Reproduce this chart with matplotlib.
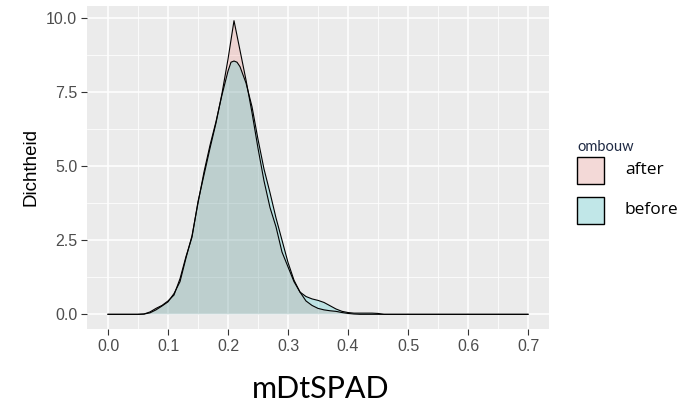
import numpy as np
import matplotlib.pyplot as plt
import matplotlib.colors as mcolors
from matplotlib.patches import Rectangle

# dichtheidscurves
after_x = [0.0, 0.05, 0.06, 0.07, 0.08, 0.09, 0.10, 0.11, 0.12, 0.13, 0.14, 0.15,
           0.16, 0.17, 0.18, 0.19, 0.20, 0.21, 0.22, 0.23, 0.24, 0.25, 0.26, 0.27,
           0.28, 0.29, 0.30, 0.31, 0.32, 0.33, 0.34, 0.35, 0.36, 0.37, 0.38, 0.39,
           0.40, 0.41, 0.42, 0.7]
after_y = [0.0, 0.0, 0.01, 0.08, 0.2, 0.3, 0.45, 0.65, 1.2, 1.95, 2.6, 3.8,
           4.7, 5.6, 6.45, 7.45, 8.6, 9.9, 8.9, 7.9, 6.8, 5.6, 4.5, 3.6,
           2.95, 2.1, 1.6, 1.1, 0.75, 0.45, 0.3, 0.2, 0.15, 0.12, 0.1, 0.06,
           0.03, 0.01, 0.0, 0.0]

before_x = [0.0, 0.05, 0.06, 0.07, 0.08, 0.09, 0.10, 0.11, 0.12, 0.13, 0.14, 0.15,
            0.16, 0.17, 0.18, 0.19, 0.20, 0.205, 0.21, 0.215, 0.22, 0.23, 0.24, 0.25,
            0.26, 0.27, 0.28, 0.29, 0.30, 0.31, 0.32, 0.33, 0.34, 0.35, 0.36, 0.37,
            0.38, 0.39, 0.40, 0.41, 0.42, 0.43, 0.44, 0.45, 0.46, 0.7]
before_y = [0.0, 0.0, 0.01, 0.05, 0.15, 0.28, 0.42, 0.7, 1.1, 1.9, 2.65, 3.75,
            4.8, 5.7, 6.5, 7.4, 8.2, 8.5, 8.54, 8.5, 8.35, 7.8, 7.0, 5.9,
            4.9, 4.1, 3.25, 2.5, 1.75, 1.15, 0.75, 0.6, 0.52, 0.47, 0.4, 0.29,
            0.18, 0.1, 0.06, 0.04, 0.04, 0.04, 0.04, 0.03, 0.0, 0.0]

groups = ['after', 'before']
fill_colors = ['#F8766D', '#00BFC4']
x_ticks = [0.0, 0.1, 0.2, 0.3, 0.4, 0.5, 0.6, 0.7]
y_ticks = [0.0, 2.5, 5.0, 7.5, 10.0]

W, H = 687, 404
fig = plt.figure(figsize=(W / 100, H / 100), dpi=100)
fig.patch.set_facecolor('white')

# paneel in pixels: links 87, rechts 549, boven 6, onder 329
ax = fig.add_axes([87 / W, 1 - 329 / H, (549 - 87) / W, (329 - 6) / H])
ax.set_facecolor('#EBEBEB')

curves = [(after_x, after_y), (before_x, before_y)]
for (xs, ys), col in zip(curves, fill_colors):
    ax.fill_between(xs, ys, 0, facecolor=col, alpha=0.2, linewidth=0)
    ax.plot(xs, ys, color='black', linewidth=0.8)

# ggplot-achtige expansie van 5%
xmin, xmax = 0.0, 0.7
ymax = max(max(after_y), max(before_y))
ax.set_xlim(xmin - 0.05 * (xmax - xmin), xmax + 0.05 * (xmax - xmin))
ax.set_ylim(-0.05 * ymax, ymax * 1.05)

ax.set_xticks(x_ticks)
ax.set_xticklabels([f'{v:.1f}' for v in x_ticks])
ax.set_yticks(y_ticks)
ax.set_yticklabels([f'{v:.1f}' for v in y_ticks])
ax.set_xticks(np.arange(0.05, 0.7, 0.1), minor=True)
ax.set_yticks(np.arange(1.25, 10, 2.5), minor=True)

ax.grid(which='major', color='white', linewidth=1.1)
ax.grid(which='minor', color='white', linewidth=0.55)
ax.set_axisbelow(True)
for s in ax.spines.values():
    s.set_visible(False)

ax.tick_params(which='major', length=4, width=0.8, color='#333333',
               labelcolor='#4D4D4D', labelsize=11.5, pad=3)
ax.tick_params(which='minor', length=0)
for lab in ax.get_xticklabels() + ax.get_yticklabels():
    lab.set_fontfamily('Liberation Sans')

ax.set_ylabel('Dichtheid', fontsize=13.5, family='Liberation Sans', color='black', labelpad=5)

# grote as-titel onder de figuur
fig.text(321 / W, 1 - 389 / H, 'mDtSPAD', fontsize=22, family='Lato',
         ha='center', va='center', color='black')

# legenda
fig.text(577 / W, 1 - 147 / H, 'ombouw', fontsize=10.5, family='Lato',
         ha='left', va='center', color='#1F2A44')
key_tops = [157, 197]
for top, col, name in zip(key_tops, fill_colors, groups):
    box = [577 / W, 1 - (top + 27) / H, 27 / W, 27 / H]
    fig.add_artist(Rectangle(box[:2], box[2], box[3], transform=fig.transFigure,
                             facecolor='#F2F2F2', edgecolor='none'))
    fig.add_artist(Rectangle(box[:2], box[2], box[3], transform=fig.transFigure,
                             facecolor=mcolors.to_rgba(col, 0.2), edgecolor='black',
                             linewidth=1.0))
    fig.text(625 / W, 1 - (top + 13) / H, name, fontsize=12.5, family='Open Sans',
             ha='left', va='center', color='black')

fig.savefig('out.png', dpi=100)
